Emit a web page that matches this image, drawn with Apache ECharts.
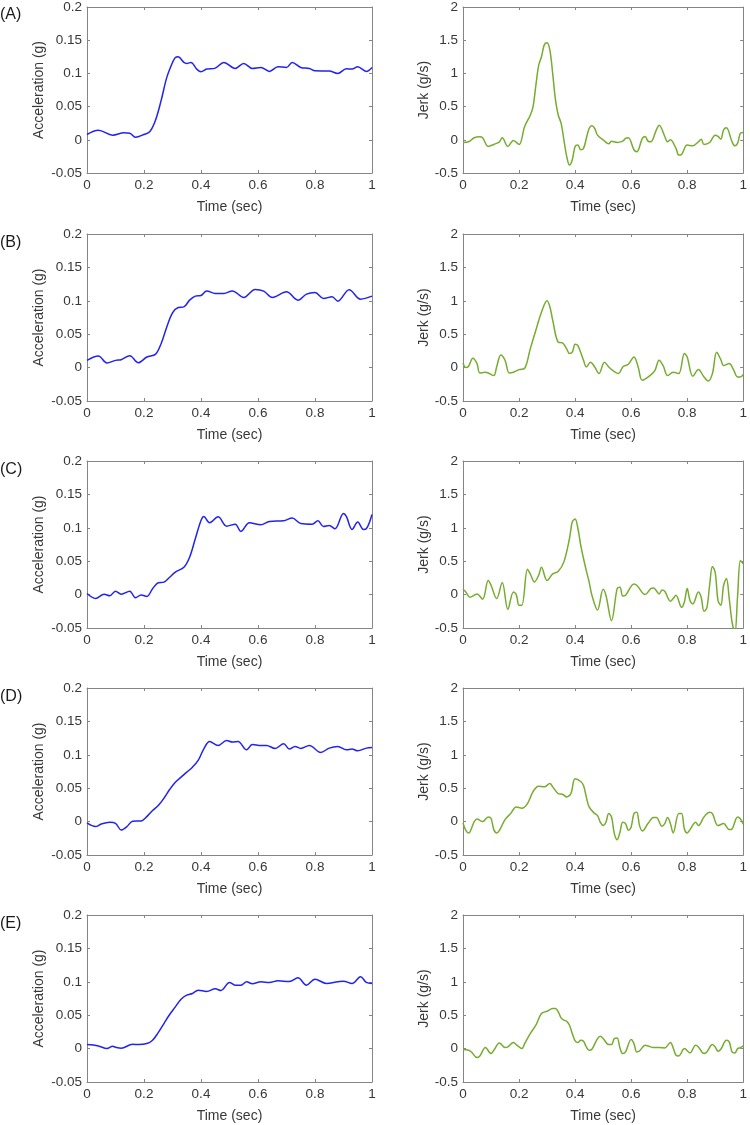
<!DOCTYPE html>
<html><head><meta charset="utf-8">
<script src="https://cdn.jsdelivr.net/npm/echarts@6/dist/echarts.min.js"></script>
<style>html,body{margin:0;padding:0;background:#fff}#c{width:750px;height:1125px}</style>
</head><body><div id="c"></div>
<script>
// ---------- DATA ----------
const panelLabels = ['(A)', '(B)', '(C)', '(D)', '(E)'];
const timeAxis = [0, 1, 0.2];          // min, max, interval
const accAxis = [-0.05, 0.2, 0.05];
const jerkAxis = [-0.5, 2, 0.5];
const accName = 'Acceleration (g)';
const jerkName = 'Jerk (g/s)';
const timeName = 'Time (sec)';

// (A)
const tAccA = [0,0.04,0.09,0.13,0.15,0.17,0.2,0.22,0.24,0.26,0.28,0.30,0.31,0.32,0.34,0.35,0.365,0.385,0.4,0.42,0.45,0.48,0.52,0.55,0.58,0.61,0.64,0.67,0.70,0.72,0.75,0.78,0.80,0.85,0.88,0.91,0.93,0.95,0.98,1.0];
const vAccA = [0.008,0.0145,0.007,0.0105,0.010,0.004,0.008,0.012,0.029,0.059,0.094,0.1165,0.124,0.125,0.1165,0.115,0.1165,0.1065,0.1025,0.1065,0.108,0.1165,0.1075,0.115,0.1075,0.109,0.103,0.110,0.109,0.1165,0.109,0.1075,0.104,0.1035,0.100,0.107,0.1065,0.110,0.103,0.109];
const tJerkA = [0,0.02,0.04,0.06,0.07,0.09,0.11,0.13,0.14,0.16,0.18,0.20,0.22,0.24,0.25,0.26,0.27,0.28,0.29,0.30,0.31,0.32,0.33,0.34,0.35,0.36,0.37,0.38,0.39,0.40,0.41,0.42,0.43,0.44,0.45,0.46,0.47,0.48,0.50,0.52,0.53,0.55,0.57,0.58,0.59,0.61,0.62,0.64,0.65,0.66,0.67,0.69,0.70,0.72,0.73,0.74,0.76,0.77,0.78,0.80,0.82,0.84,0.85,0.86,0.88,0.90,0.91,0.92,0.93,0.94,0.96,0.97,0.98,0.99,1.0];
const vJerkA = [-0.04,-0.03,0.03,0.045,0.03,-0.10,-0.07,-0.03,0.03,-0.10,-0.01,-0.07,0.20,0.37,0.50,0.82,1.12,1.25,1.43,1.46,1.35,1.0,0.60,0.37,0.25,0.0,-0.25,-0.38,-0.30,-0.10,-0.08,-0.15,-0.13,0.02,0.17,0.21,0.17,0.07,0.0,-0.06,-0.02,-0.04,-0.02,0.02,0.03,-0.15,-0.18,0.02,0.05,-0.02,-0.03,0.15,0.22,0.05,-0.03,0.0,-0.13,-0.23,-0.22,-0.08,-0.09,-0.03,0.01,-0.07,-0.04,0.07,0.05,0.01,0.15,0.18,-0.03,-0.09,-0.05,0.10,0.11];

// (B)
const tAccB = [0,0.04,0.07,0.10,0.12,0.15,0.18,0.21,0.24,0.26,0.28,0.30,0.32,0.34,0.36,0.38,0.40,0.42,0.45,0.48,0.51,0.55,0.59,0.62,0.65,0.70,0.74,0.77,0.80,0.83,0.86,0.88,0.92,0.96,1.0];
const vAccB = [0.0108,0.0173,0.0068,0.0108,0.0118,0.0178,0.0073,0.0158,0.0198,0.0358,0.0609,0.0819,0.0899,0.0909,0.101,0.107,0.108,0.1147,0.111,0.111,0.1147,0.105,0.117,0.1145,0.105,0.1135,0.101,0.110,0.1125,0.1035,0.106,0.0995,0.1165,0.1025,0.107];
const tJerkB = [0,0.01,0.02,0.035,0.05,0.06,0.08,0.09,0.11,0.12,0.135,0.15,0.165,0.18,0.20,0.22,0.24,0.26,0.28,0.30,0.31,0.32,0.34,0.355,0.37,0.38,0.39,0.40,0.41,0.43,0.44,0.455,0.47,0.485,0.505,0.52,0.54,0.555,0.57,0.59,0.61,0.625,0.64,0.67,0.685,0.70,0.715,0.73,0.75,0.77,0.79,0.80,0.82,0.84,0.86,0.875,0.89,0.905,0.92,0.93,0.95,0.965,0.98,0.99,1.0];
const vJerkB = [0.07,0.0,0.02,0.14,0.06,-0.08,-0.07,-0.08,-0.12,0.01,0.19,0.11,-0.08,-0.07,-0.03,-0.01,0.28,0.56,0.83,1.0,0.91,0.71,0.38,0.37,0.28,0.21,0.23,0.35,0.33,0.11,0.01,0.08,0.01,-0.09,0.08,0.01,-0.06,-0.09,0.01,0.05,0.16,0.01,-0.19,-0.11,-0.04,0.11,0.02,-0.12,-0.07,-0.09,0.21,0.16,-0.13,-0.03,-0.14,-0.20,-0.09,0.23,0.12,0.03,0.06,-0.03,-0.14,-0.14,-0.10];

// (C)
const tAccC = [0,0.03,0.06,0.08,0.10,0.12,0.15,0.17,0.19,0.21,0.23,0.25,0.27,0.29,0.31,0.34,0.36,0.38,0.40,0.41,0.43,0.46,0.49,0.52,0.54,0.57,0.61,0.64,0.69,0.72,0.75,0.79,0.81,0.83,0.85,0.87,0.90,0.91,0.93,0.95,0.97,0.98,1.0];
const vAccC = [0.0017,-0.0057,0.0007,-0.0017,0.0052,0.0007,0.0052,-0.0047,-0.0007,-0.0027,0.0087,0.0177,0.0187,0.026,0.0337,0.041,0.056,0.0836,0.111,0.117,0.1075,0.1165,0.1025,0.1055,0.0946,0.1075,0.1045,0.1095,0.1105,0.1145,0.1065,0.1055,0.1105,0.102,0.1035,0.0985,0.1215,0.117,0.0976,0.1085,0.0976,0.0985,0.12];
const tJerkC = [0,0.01,0.025,0.05,0.07,0.09,0.10,0.12,0.14,0.16,0.18,0.19,0.20,0.21,0.23,0.24,0.255,0.27,0.28,0.30,0.32,0.34,0.36,0.38,0.39,0.40,0.41,0.42,0.43,0.44,0.45,0.46,0.48,0.50,0.51,0.53,0.55,0.56,0.57,0.58,0.61,0.62,0.65,0.67,0.68,0.70,0.71,0.72,0.74,0.75,0.76,0.78,0.79,0.80,0.81,0.82,0.84,0.85,0.86,0.87,0.88,0.89,0.90,0.91,0.92,0.93,0.94,0.95,0.96,0.97,0.98,0.99,1.0];
const vJerkC = [0.08,0.04,-0.04,0.01,-0.07,0.21,0.14,-0.06,0.18,-0.22,0.04,0.0,-0.16,-0.16,0.38,0.31,0.19,0.29,0.41,0.21,0.31,0.35,0.49,0.84,1.09,1.13,0.99,0.74,0.54,0.36,0.19,-0.01,-0.23,0.08,-0.01,-0.39,0.09,0.11,-0.02,-0.01,0.16,0.14,0.0,0.09,0.10,0.01,0.07,0.05,-0.10,-0.06,-0.01,-0.19,-0.11,0.09,-0.09,-0.14,0.04,-0.04,-0.25,-0.20,0.14,0.42,0.33,-0.09,-0.16,0.14,0.24,-0.06,-0.41,-0.58,-0.01,0.51,0.46];

// (D)
const tAccD = [0,0.03,0.05,0.08,0.10,0.12,0.14,0.16,0.19,0.21,0.23,0.25,0.27,0.29,0.31,0.33,0.35,0.37,0.39,0.41,0.43,0.46,0.49,0.51,0.53,0.56,0.58,0.61,0.63,0.66,0.69,0.71,0.73,0.75,0.78,0.82,0.85,0.88,0.91,0.93,0.95,0.98,1.0];
const vAccD = [-0.002,-0.0075,-0.0035,-0.001,-0.0025,-0.0125,-0.0075,0.0005,0.001,0.0075,0.0165,0.024,0.035,0.048,0.059,0.0665,0.074,0.0815,0.0915,0.109,0.12,0.114,0.1215,0.119,0.12,0.1075,0.1155,0.114,0.114,0.1095,0.1165,0.1085,0.1125,0.1095,0.114,0.1035,0.11,0.1125,0.1075,0.1085,0.106,0.11,0.111];
const tJerkD = [0,0.01,0.02,0.04,0.05,0.07,0.09,0.10,0.11,0.12,0.13,0.15,0.17,0.19,0.21,0.23,0.25,0.27,0.29,0.31,0.32,0.34,0.355,0.37,0.385,0.40,0.42,0.43,0.44,0.45,0.47,0.48,0.49,0.50,0.51,0.52,0.53,0.54,0.55,0.56,0.57,0.58,0.59,0.60,0.61,0.62,0.63,0.64,0.66,0.68,0.69,0.71,0.72,0.73,0.74,0.75,0.77,0.78,0.79,0.80,0.81,0.83,0.84,0.86,0.88,0.89,0.91,0.93,0.95,0.96,0.98,0.99,1.0];
const vJerkD = [-0.02,-0.13,-0.17,0.0,0.04,0.0,0.07,0.05,-0.12,-0.17,-0.13,0.03,0.12,0.22,0.20,0.27,0.45,0.53,0.52,0.57,0.52,0.42,0.41,0.37,0.42,0.64,0.60,0.54,0.37,0.22,0.12,0.09,-0.01,-0.06,-0.01,0.12,0.07,-0.18,-0.27,-0.16,-0.01,-0.03,-0.13,-0.08,0.12,0.14,-0.06,-0.14,-0.03,0.06,0.06,-0.07,-0.03,0.06,-0.03,-0.17,0.12,0.12,-0.11,-0.17,-0.12,-0.01,-0.06,0.07,0.14,0.12,-0.06,-0.03,-0.12,-0.11,0.07,0.04,-0.04];

// (E)
const tAccE = [0,0.04,0.07,0.09,0.10,0.12,0.16,0.18,0.21,0.23,0.25,0.27,0.29,0.31,0.33,0.35,0.37,0.39,0.42,0.45,0.47,0.50,0.52,0.54,0.56,0.58,0.61,0.64,0.67,0.71,0.74,0.77,0.80,0.84,0.88,0.90,0.93,0.96,0.98,1.0];
const vAccE = [0.006,0.004,0.0,0.0035,0.002,0.0005,0.0065,0.006,0.0075,0.0125,0.024,0.0375,0.051,0.0625,0.074,0.080,0.0825,0.0875,0.0855,0.0895,0.087,0.099,0.095,0.095,0.100,0.097,0.100,0.099,0.1015,0.1005,0.106,0.095,0.104,0.0975,0.100,0.101,0.0975,0.1075,0.099,0.0975];
const tJerkE = [0,0.02,0.03,0.05,0.06,0.08,0.10,0.11,0.13,0.15,0.16,0.18,0.19,0.21,0.22,0.24,0.26,0.28,0.30,0.32,0.33,0.34,0.35,0.36,0.37,0.38,0.39,0.40,0.41,0.42,0.43,0.44,0.45,0.46,0.48,0.49,0.50,0.52,0.53,0.54,0.55,0.56,0.57,0.58,0.60,0.61,0.62,0.63,0.65,0.66,0.68,0.70,0.72,0.74,0.75,0.76,0.77,0.79,0.81,0.83,0.84,0.86,0.87,0.89,0.90,0.91,0.92,0.94,0.95,0.96,0.97,0.98,0.99,1.0];
const vJerkE = [-0.015,-0.025,-0.05,-0.135,-0.11,0.015,-0.075,-0.025,0.085,0.015,0.025,0.09,0.06,0.0,0.075,0.225,0.35,0.525,0.56,0.60,0.60,0.55,0.46,0.425,0.41,0.35,0.225,0.115,0.09,0.125,0.11,0.025,-0.025,-0.01,0.15,0.185,0.15,0.06,0.06,0.15,0.16,0.01,-0.075,-0.05,0.135,0.075,-0.05,-0.035,0.05,0.04,0.015,0.015,0.01,0.09,0.01,-0.10,-0.11,0.0,-0.065,0.05,0.025,-0.075,-0.05,0.06,0.025,-0.04,-0.01,0.125,0.10,-0.05,-0.065,0.0,0.015,0.04];

const accT = [tAccA, tAccB, tAccC, tAccD, tAccE];
const accV = [vAccA, vAccB, vAccC, vAccD, vAccE];
const jerkT = [tJerkA, tJerkB, tJerkC, tJerkD, tJerkE];
const jerkV = [vJerkA, vJerkB, vJerkC, vJerkD, vJerkE];

// ---------- STYLE / LAYOUT ----------
const FONT = '"Liberation Sans", Arial, sans-serif';
const TEXT = '#383838';
const BOX = '#858585';
const ACC_COLOR = '#2222f2';
const JERK_COLOR = '#77ac30';
const rowTops = [6, 234, 461, 688, 915];
const PH = 167;
const LEFT_X = 87, LEFT_W = 285;
const RIGHT_X = 463, RIGHT_W = 284;

const grids = [], xAxes = [], yAxes = [], series = [], graphics = [];

function addPanel(left, width, top, axisDef, yName, yGap, t, v, color) {
  const g = grids.length;
  grids.push({ left: left, top: top, width: width, height: PH, containLabel: false });
  const axisLine = { show: true, onZero: false, lineStyle: { color: BOX, width: 1 } };
  const tick = { show: true, inside: true, length: 3, lineStyle: { color: BOX, width: 1 } };
  const lbl = { color: TEXT, fontSize: 13.5, fontFamily: FONT, margin: 5 };
  const nameStyle = { color: TEXT, fontSize: 14, fontFamily: FONT };
  xAxes.push({ gridIndex: g, type: 'value', position: 'bottom', min: timeAxis[0], max: timeAxis[1], interval: timeAxis[2],
    axisLine, axisTick: tick, splitLine: { show: false }, axisLabel: lbl,
    name: timeName, nameLocation: 'middle', nameGap: 27, nameTextStyle: nameStyle });
  xAxes.push({ gridIndex: g, type: 'value', position: 'top', min: timeAxis[0], max: timeAxis[1], interval: timeAxis[2],
    axisLine, axisTick: tick, splitLine: { show: false }, axisLabel: { show: false } });
  yAxes.push({ gridIndex: g, type: 'value', position: 'left', min: axisDef[0], max: axisDef[1], interval: axisDef[2],
    axisLine, axisTick: tick, splitLine: { show: false }, axisLabel: lbl,
    name: yName, nameLocation: 'middle', nameGap: yGap, nameTextStyle: nameStyle });
  yAxes.push({ gridIndex: g, type: 'value', position: 'right', min: axisDef[0], max: axisDef[1], interval: axisDef[2],
    axisLine, axisTick: tick, splitLine: { show: false }, axisLabel: { show: false } });
  series.push({ type: 'line', xAxisIndex: 2 * g, yAxisIndex: 2 * g,
    data: t.map((x, i) => [x, v[i]]), showSymbol: false, symbol: 'none', smooth: 0.35,
    lineStyle: { color: color, width: 1.5 }, itemStyle: { color: color }, clip: true, silent: true });
}

for (let r = 0; r < 5; r++) {
  addPanel(LEFT_X, LEFT_W, rowTops[r], accAxis, accName, 41, accT[r], accV[r], ACC_COLOR);
  addPanel(RIGHT_X, RIGHT_W, rowTops[r], jerkAxis, jerkName, 31, jerkT[r], jerkV[r], JERK_COLOR);
  graphics.push({ type: 'text', left: 0, top: rowTops[r] + 1,
    style: { text: panelLabels[r], fill: '#1a1a1a', font: '16px ' + FONT } });
}

const chart = echarts.init(document.getElementById('c'), null, { renderer: 'canvas' });
chart.setOption({
  animation: false,
  backgroundColor: '#ffffff',
  grid: grids, xAxis: xAxes, yAxis: yAxes, series: series, graphic: graphics
});
</script></body></html>
